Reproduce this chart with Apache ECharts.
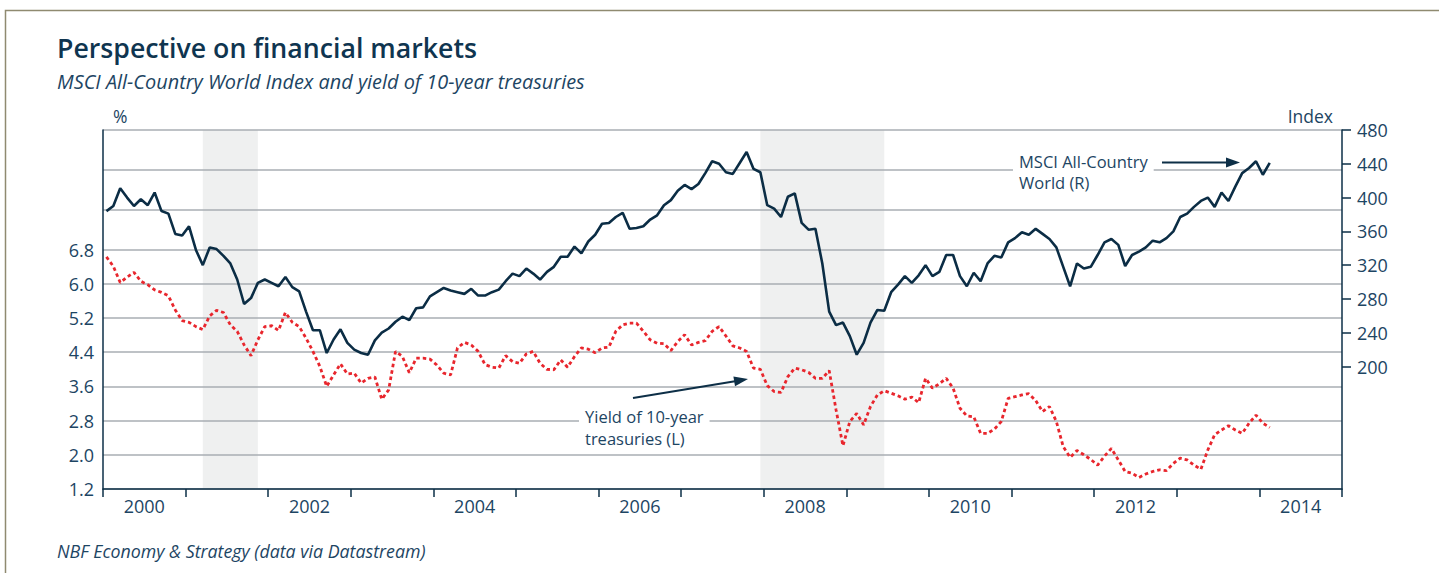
<!DOCTYPE html>
<html><head><meta charset="utf-8">
<script src="https://cdn.jsdelivr.net/npm/echarts@6/dist/echarts.min.js"></script>
<style>html,body{margin:0;padding:0;background:#fff}#c{width:1439px;height:573px}</style>
</head><body><div id="c"></div>
<script>
// ---- data ----
const startYear = 2000;
const months = [];
for (let i = 0; i < 170; i++) {
  const y = startYear + Math.floor(i / 12), m = (i % 12) + 1;
  months.push(y + '-' + (m < 10 ? '0' + m : m));
}
const msci = [
  384,390,411,400,390,398,391,406,384,381,
  357,355,366,338,320,341,339,331,322,303,
  274,281,299,303,299,295,306,294,289,265,
  243,243,216,232,244,228,220,216,214,231,
  240,245,253,259,255,269,270,283,288,293,
  290,288,286,292,284,284,288,291,301,310,
  307,316,310,303,312,318,330,330,342,334,
  348,356,369,370,377,382,363,364,366,374,
  379,391,397,408,415,410,416,429,443,440,
  430,428,441,454,434,430,391,387,377,401,
  405,370,362,363,322,265,249,252,236,214,
  228,252,267,266,288,297,307,299,308,320,
  307,312,332,332,307,295,311,301,322,331,
  329,347,352,359,356,363,357,351,341,318,
  295,322,316,318,332,347,351,344,319,332,
  336,341,349,347,352,360,377,381,389,396,
  400,389,406,396,413,429,435,443,427,441
];
const yield10 = [
  6.63,6.41,6.03,6.16,6.27,6.06,5.98,5.86,5.80,5.72,
  5.39,5.14,5.10,5.00,4.93,5.25,5.38,5.33,5.04,4.89,
  4.57,4.32,4.69,5.00,5.02,4.91,5.33,5.10,5.00,4.73,
  4.42,4.07,3.60,3.87,4.13,3.89,3.91,3.68,3.79,3.82,
  3.30,3.52,4.42,4.30,3.92,4.26,4.26,4.24,4.10,3.91,
  3.87,4.50,4.63,4.57,4.42,4.11,4.05,4.03,4.32,4.18,
  4.14,4.36,4.42,4.14,4.00,3.99,4.22,4.05,4.30,4.50,
  4.47,4.39,4.50,4.52,4.89,5.04,5.08,5.08,4.89,4.69,
  4.61,4.60,4.44,4.65,4.81,4.57,4.63,4.67,4.89,5.00,
  4.78,4.55,4.50,4.42,4.03,4.00,3.62,3.48,3.46,3.83,
  4.03,3.99,3.93,3.79,3.79,3.97,3.05,2.21,2.78,2.97,
  2.70,3.13,3.40,3.50,3.44,3.38,3.30,3.35,3.22,3.79,
  3.56,3.66,3.79,3.56,3.09,2.91,2.89,2.50,2.50,2.60,
  2.78,3.32,3.36,3.40,3.43,3.27,3.01,3.13,2.78,2.19,
  1.94,2.10,2.00,1.89,1.76,1.97,2.15,1.88,1.61,1.57,
  1.47,1.55,1.61,1.65,1.63,1.80,1.92,1.88,1.76,1.66,
  2.11,2.47,2.58,2.68,2.58,2.50,2.74,2.93,2.74,2.64
];
const recessions = [["2001-03","2001-11"],["2007-12","2009-06"]];
const yearLabels = [2000,2002,2004,2006,2008,2010,2012,2014];
const leftLabels = [1.2,2.0,2.8,3.6,4.4,5.2,6.0,6.8];
const leftGridLines = [1.2,2.0,2.8,3.6,4.4,5.2,6.0,6.8,7.74,8.67,9.6];
const rightLabels = [200,240,280,320,360,400,440,480];

// ---- helpers ----
function mx(s){ const p = s.split('-').map(Number); return p[0] + (p[1] - 0.5) / 12; }
const navy = '#0d2f47', txt = '#1d4563', FONT = '"Open Sans"';

const chart = echarts.init(document.getElementById('c'), null, {renderer:'svg'});
chart.setOption({
  animation: false,
  textStyle: {fontFamily: FONT},
  title: {
    text: 'Perspective on financial markets',
    subtext: 'MSCI All-Country World Index and yield of 10-year treasuries',
    left: 57, top: 31, padding: 0, itemGap: 7,
    textStyle: {fontFamily: FONT, fontSize: 26.7, fontWeight: 600, color: '#0f3550', lineHeight: 32},
    subtextStyle: {fontFamily: FONT, fontSize: 19.9, fontStyle: 'italic', color: txt, lineHeight: 22}
  },
  grid: {left: 103, right: 97, top: 130, bottom: 84},
  xAxis: {
    type: 'value', min: 2000, max: 2015, interval: 1, z: 1,
    axisLine: {show: true, onZero: false, lineStyle: {color: navy, width: 1.5}},
    axisTick: {show: true, inside: false, length: 8, lineStyle: {color: navy, width: 1.5}},
    axisLabel: {customValues: yearLabels.map(y => y + 0.5), formatter: v => String(Math.floor(v)),
      color: txt, fontSize: 18, margin: 8},
    splitLine: {show: false}
  },
  yAxis: [{
    type: 'value', min: 1.2, max: 9.6, position: 'left', z: 1,
    name: '%', nameLocation: 'end', nameGap: 5,
    nameTextStyle: {color: txt, fontSize: 17.5, align: 'left', padding: [0,0,0,10]},
    axisLine: {show: true, lineStyle: {color: navy, width: 1.5}},
    axisTick: {show: false, customValues: leftGridLines},
    axisLabel: {customValues: leftLabels, formatter: v => v.toFixed(1), color: txt, fontSize: 18, margin: 9},
    splitLine: {show: true, lineStyle: {color: '#a9aeb3', width: 1.5}}
  }, {
    type: 'value', min: 55, max: 480, position: 'right', z: 1,
    name: 'Index', nameLocation: 'end', nameGap: 5,
    nameTextStyle: {color: txt, fontSize: 17.5, align: 'right', padding: [0,9,0,0]},
    axisLine: {show: true, lineStyle: {color: navy, width: 1.5}},
    axisTick: {show: true, inside: false, length: 9, customValues: rightLabels, lineStyle: {color: navy, width: 1.5}},
    axisLabel: {customValues: rightLabels, color: txt, fontSize: 18, margin: 15},
    splitLine: {show: false}
  }],
  series: [{
    type: 'line', name: 'recessions', data: [], silent: true, z: 0,
    markArea: {silent: true, z: 0, itemStyle: {color: '#eff0f0'},
      data: recessions.map(r => [{xAxis: mx(r[0])}, {xAxis: mx(r[1])}])}
  }, {
    type: 'line', name: 'Yield of 10-year treasuries (L)', yAxisIndex: 0, z: 3,
    data: months.map((m, i) => [mx(m), yield10[i]]),
    showSymbol: false, lineStyle: {color: '#e8262d', width: 2.8, type: [3.5, 3]}
  }, {
    type: 'line', name: 'MSCI All-Country World (R)', yAxisIndex: 1, z: 4,
    data: months.map((m, i) => [mx(m), msci[i]]),
    showSymbol: false, lineStyle: {color: '#0b2d45', width: 2.6}
  }],
  graphic: [
    {type: 'polyline', z: 50, shape: {points: [[5.5,573],[5.5,10.5],[1439,10.5]]},
      style: {stroke: '#8f8a70', lineWidth: 1.5, fill: null}},
    {type: 'text', z: 50, x: 57, y: 551,
      style: {text: 'NBF Economy & Strategy (data via Datastream)', font: 'italic 17.8px "Open Sans"', fill: txt, verticalAlign: 'middle'}},
    {type: 'text', z: 60, x: 1013, y: 150,
      style: {text: 'MSCI All-Country\nWorld (R)', font: '16.5px "Open Sans"', fill: txt, lineHeight: 21,
        backgroundColor: '#fff', padding: [1, 6, 1, 6], verticalAlign: 'top'}},
    {type: 'line', z: 60, shape: {x1: 1162, y1: 162.5, x2: 1228, y2: 162.5}, style: {stroke: navy, lineWidth: 2}},
    {type: 'polygon', z: 60, shape: {points: [[1240,162.5],[1226,157.5],[1226,167.5]]}, style: {fill: navy}},
    {type: 'text', z: 60, x: 579, y: 404,
      style: {text: 'Yield of 10-year\ntreasuries (L)', font: '16.5px "Open Sans"', fill: txt, lineHeight: 22,
        backgroundColor: '#fff', padding: [1, 6, 1, 6], verticalAlign: 'top'}},
    {type: 'line', z: 60, shape: {x1: 633, y1: 398, x2: 735, y2: 381.3}, style: {stroke: navy, lineWidth: 2}},
    {type: 'polygon', z: 60, shape: {points: [[748,379],[735.0,386.2],[733.4,376.4]]}, style: {fill: navy}}
  ]
});
</script></body></html>
